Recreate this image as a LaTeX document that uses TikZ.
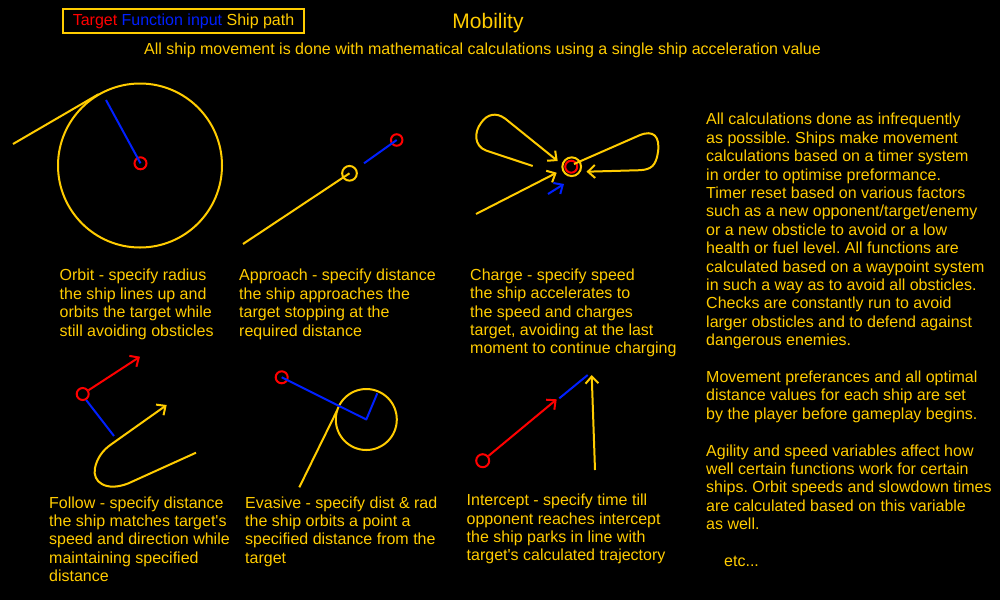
\documentclass[tikz,border=0pt]{standalone}
\usepackage{fontspec}
\setmainfont{Liberation Sans}
\usetikzlibrary{arrows.meta}

\definecolor{pathyellow}{RGB}{255,204,0}
\definecolor{targetred}{RGB}{255,0,0}
\definecolor{inputblue}{RGB}{0,32,255}

% left-aligned block whose reference point is the first baseline
\newcommand\textlines[1]{\begin{tabular}[t]{@{}l@{}}#1\end{tabular}}
\newcommand\apos{\textquotesingle}

\tikzset{
  shippath/.style={draw=pathyellow, line width=2pt, line join=round},
  fninput/.style={draw=inputblue, line width=2pt},
  tgtline/.style={draw=targetred, line width=2pt},
  target/.style={circle, draw=targetred, line width=2pt, minimum size=12pt, inner sep=0pt},
  shipmark/.style={circle, draw=pathyellow, line width=2pt, inner sep=0pt},
  barb/.style={-{Straight Barb[length=7pt,width=13pt,line width=2pt]}},
  caption/.style={anchor=base west, inner sep=0pt, text=pathyellow,
    font=\fontsize{16}{18.4}\selectfont\frenchspacing},
}

\begin{document}
\begin{tikzpicture}[x=1pt, y=-1pt]
  \fill[black] (0,0) rectangle (1000,600);
  \useasboundingbox (0,0) rectangle (1000,600);

  % ---------- header ----------
  \node[draw=pathyellow, line width=2pt, minimum width=241.6pt, minimum height=24.3pt,
        inner sep=0pt, font=\fontsize{16}{18.4}\selectfont] (legend) at (183.5,21.2)
    {\textcolor{targetred}{Target} \textcolor{inputblue}{Function input} \textcolor{pathyellow}{Ship path}};
  \node[anchor=base, inner sep=0pt, text=pathyellow, font=\fontsize{21}{24}\selectfont]
    (title) at (488,28) {Mobility};
  \node[anchor=base, inner sep=0pt, text=pathyellow, font=\fontsize{16}{18.4}\selectfont]
    (subtitle) at (482.5,54.5)
    {All ship movement is done with mathematical calculations using a single ship acceleration value};

  % ---------- orbit ----------
  \node[shipmark, minimum size=164pt] (orbitring) at (140,165.5) {};
  \node[target] (orbittgt) at (140.5,163.3) {};
  \coordinate (orbitstart) at (13,144);
  \coordinate (orbittouch) at (98.7,94.1);
  \coordinate (orbitrad) at (106,100);
  \draw[shippath] (orbitstart) -- (orbittouch);
  \draw[fninput] (orbitrad) -- (orbittgt.center);

  % ---------- approach ----------
  \node[shipmark, minimum size=14.7pt] (apship) at (349.5,173.3) {};
  \node[target, minimum size=11.5pt] (aptgt) at (396.7,140) {};
  \coordinate (apstart) at (243,244);
  \coordinate (apdist) at (364,163.3);
  \draw[shippath] (apstart) -- (apship.center);
  \draw[fninput] (apdist) -- (aptgt.center);

  % ---------- charge ----------
  \node[shipmark, minimum size=18.7pt] (chship) at (571.7,166.7) {};
  \node[target, minimum size=12pt] (chtgt) at (571.2,166.7) {};
  % right loop
  \coordinate (chrstart) at (574,164);
  \coordinate (chrtip) at (586.5,171.7);
  \draw[shippath, barb] (chrstart) -- (639,135.5)
    .. controls (654,129) and (660,137) .. (658,152)
    .. controls (656,166) and (651,169.5) .. (640,170.2) -- (chrtip);
  % left loop
  \coordinate (chlstart) at (532.7,166);
  \coordinate (chltip) at (557.7,161);
  \draw[shippath, barb] (chlstart) -- (486,150.5)
    .. controls (474,146) and (474,132) .. (481,123)
    .. controls (487,114) and (496,112) .. (505,118.5) -- (chltip);
  % straight run and input
  \coordinate (chsstart) at (476,214);
  \coordinate (chstip) at (556.7,172.7);
  \draw[shippath, barb] (chsstart) -- (chstip);
  \coordinate (chbstart) at (548,194);
  \coordinate (chbtip) at (564,184);
  \draw[fninput, barb] (chbstart) -- (chbtip);

  % ---------- follow ----------
  \node[target] (fotgt) at (82.7,394) {};
  \coordinate (fohead) at (140,356.7);
  \draw[tgtline, barb] (fotgt) -- (fohead);
  \coordinate (fodist) at (114,436);
  \draw[fninput] (fotgt.-60) -- (fodist);
  \coordinate (fostart) at (196,452.7);
  \coordinate (fotip) at (166.7,405);
  \draw[shippath, barb] (fostart) -- (128,483.5)
    .. controls (106,492) and (92,482) .. (95,468)
    .. controls (97,458) and (103,450) .. (111,444.5) -- (fotip);

  % ---------- evasive ----------
  \node[target] (evtgt) at (281.7,377.3) {};
  \node[shipmark, minimum size=61pt] (evring) at (366.3,419.5) {};
  \coordinate (evrad) at (377.3,393.3);
  \coordinate (evstart) at (299.3,487.3);
  \coordinate (evtouch) at (337.3,410);
  \draw[fninput, line join=round] (evtgt.center) -- (evring.center) -- (evrad);
  \draw[shippath] (evstart) -- (evtouch);

  % ---------- intercept ----------
  \node[target, minimum size=13pt] (intgt) at (482.7,460.7) {};
  \coordinate (inhead) at (556.7,399.3);
  \draw[tgtline, barb] (intgt) -- (inhead);
  \coordinate (intime) at (587.7,375);
  \draw[fninput] (559.3,398.3) -- (intime);
  \coordinate (inshipstart) at (595,470);
  \coordinate (inshiptip) at (591.7,375);
  \draw[shippath, barb] (inshipstart) -- (inshiptip);

  % ---------- captions ----------
  \node[caption] (orbitcap) at (59.5,280.8) {\textlines{Orbit - specify radius\\
    the ship lines up and\\ orbits the target while\\ still avoiding obsticles}};
  \node[caption] (approachcap) at (239,280.8) {\textlines{Approach - specify distance\\
    the ship approaches the\\ target stopping at the\\ required distance}};
  \node[caption] (chargecap) at (470,280.3) {\textlines{Charge - specify speed\\
    the ship accelerates to\\ the speed and charges\\ target, avoiding at the last\\
    moment to continue charging}};
  \node[caption] (followcap) at (49,508) {\textlines{Follow - specify distance\\
    the ship matches target\apos s\\ speed and direction while\\ maintaining specified\\ distance}};
  \node[caption] (evasivecap) at (245,508) {\textlines{Evasive - specify dist \& rad\\
    the ship orbits a point a\\ specified distance from the\\ target}};
  \node[caption] (interceptcap) at (466.5,505.6) {\textlines{Intercept - specify time till\\
    opponent reaches intercept\\ the ship parks in line with\\ target\apos s calculated trajectory}};

  \node[caption] (notes) at (706,124.8) {\textlines{All calculations done as infrequently\\
    as possible. Ships make movement\\
    calculations based on a timer system\\
    in order to optimise preformance.\\
    Timer reset based on various factors\\
    such as a new opponent/target/enemy\\
    or a new obsticle to avoid or a low\\
    health or fuel level. All functions are\\
    calculated based on a waypoint system\\
    in such a way as to avoid all obsticles.\\
    Checks are constantly run to avoid\\
    larger obsticles and to defend against\\
    dangerous enemies.\\
    \\
    Movement preferances and all optimal\\
    distance values for each ship are set\\
    by the player before gameplay begins.\\
    \\
    Agility and speed variables affect how\\
    well certain functions work for certain\\
    ships. Orbit speeds and slowdown times\\
    are calculated based on this variable\\
    as well.\\
    \\
    \hspace*{18pt}etc...}};
\end{tikzpicture}
\end{document}
